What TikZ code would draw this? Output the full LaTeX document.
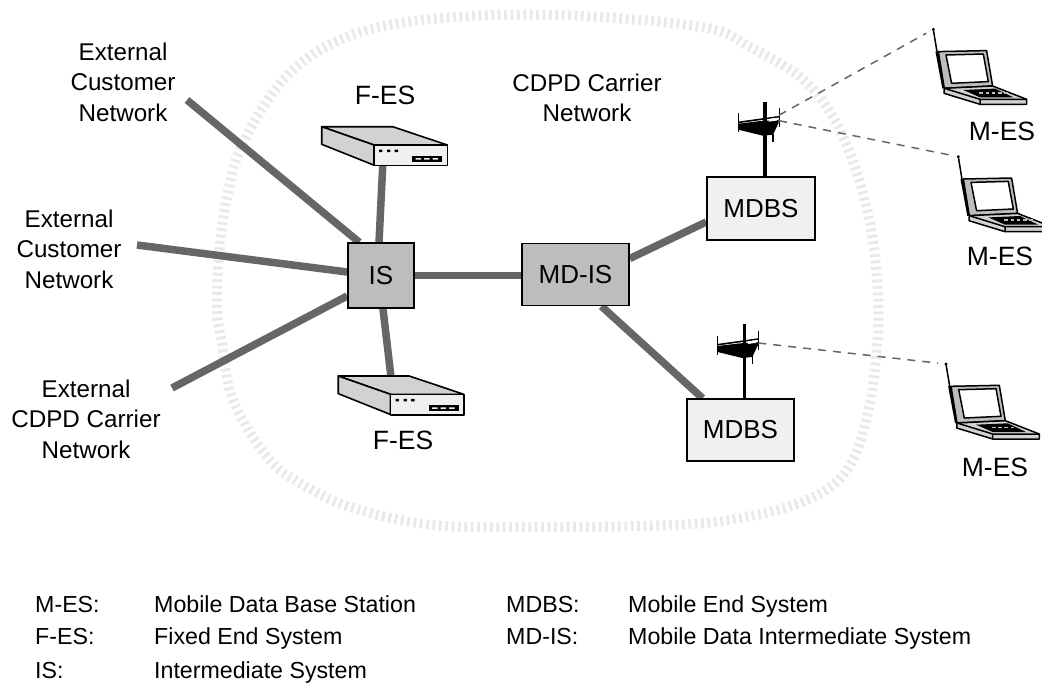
\documentclass[tikz,border=0pt]{standalone}
\usepackage{fontspec}
\setmainfont{Liberation Sans}
\usetikzlibrary{backgrounds,calc}
\definecolor{wire}{HTML}{666666}
\definecolor{loop}{HTML}{E9E9E9}
\definecolor{dark}{HTML}{BDBDBD}
\definecolor{pale}{HTML}{F0F0F0}
\definecolor{face}{HTML}{D2D2D2}
\tikzset{
  lab/.style={font=\fontsize{24.2}{30.5}\selectfont,inner sep=0pt,text=black},
  labc/.style={lab,align=center},
  dev/.style={font=\fontsize{26.5}{31}\selectfont,inner sep=0pt,text=black},
  leg/.style={font=\fontsize{23.2}{28}\selectfont,inner sep=0pt,text=black,anchor=base west},
  box/.style={draw=black,line width=1.6pt,inner sep=0pt,font=\fontsize{26}{30}\selectfont},
  isbox/.style={box,fill=dark},
  bsbox/.style={box,fill=pale},
  thick wire/.style={draw=wire,line width=7.5pt},
  radio/.style={draw=wire,line width=1.5pt,dash pattern=on 8pt off 7pt,shorten >=8pt},
  router/.pic={
    \coordinate (-c) at (60,20);
    \draw[line width=1.6pt,fill=face,line join=round] (0,0) -- (71,0) -- (125.6,18.3) -- (52.3,18.3) -- cycle;
    \draw[line width=1.6pt,fill=face,line join=round] (0,0) -- (52.3,18.3) -- (52.3,38.5) -- (0,17.6) -- cycle;
    \draw[line width=1.6pt,fill=pale,line join=round] (52.3,18.3) rectangle (125.6,38.8);
    \fill[black] (57.3,22.8) rectangle +(3.4,2.6) (65.3,22.8) rectangle +(3.4,2.6) (73,22.8) rectangle +(3.4,2.6);
    \fill[black] (90.5,29.3) rectangle (120.5,35);
    \fill[pale] (94,31.4) rectangle +(5.5,1.5) (102.5,31.4) rectangle +(5.5,1.5) (111,31.4) rectangle +(5.5,1.5);
  },
  laptop/.pic={
    \coordinate (-tip) at (0,0);
    \draw[line width=1.5pt] (0,0) -- (3.6,22);
    \fill (0,0) circle (1.6pt);
    \draw[line width=3pt] (3.6,22) -- (10.5,59);
    \draw[line width=1.5pt,fill=dark,line join=round] (5,22.3) -- (53.3,21.3) -- (59.3,56.7) -- (11,59) -- cycle;
    \draw[line width=1.5pt,fill=white,line join=round] (12.7,25.7) -- (50,24.7) -- (55,52.3) -- (18.3,54) -- cycle;
    \draw[line width=1.5pt,fill=face,line join=round] (11,59) -- (59.3,56.7) -- (93.3,70) -- (93.3,75) -- (46.7,75) -- (10.7,64) -- cycle;
    \draw[line width=1.5pt] (11,59) -- (46.7,70) -- (93.3,70) (46.7,70) -- (46.7,75);
    \fill[black] (30,60.7) -- (61.7,59.3) -- (80,68) -- (46.7,68) -- cycle;
    \foreach \k in {0,1,2,3,4}{\fill[dark] (46+\k*6.2,62.6) rectangle +(3.6,1.6);}
  },
  mast/.pic={
    \coordinate (-rf) at (14,13.5);
    \coordinate (-rg) at (14,19);
    \draw[line width=3.4pt] (0,0) -- (0,75.5);
    \draw[line width=1.4pt] (-26.7,11.7) -- (-26.7,30.7);
    \draw[line width=1.4pt] (14.3,6.7) -- (14.3,25.7);
    \draw[line width=1.6pt] (-26.7,20.7) -- (14.3,15);
    \fill[black] (-26.7,22) -- (-6,19.5) -- (13.7,18) -- (13.7,21) -- (8,33) -- (-2,34) -- (-26.7,28) -- cycle;
    \fill[white] (3.5,17.3) -- (13,16) -- (12,18.8) -- (3.5,20) -- cycle;
    \draw[line width=1.6pt] (8,32) -- (8,40);
  }
}
\begin{document}
\begin{tikzpicture}[x=1pt,y=-1pt]
\useasboundingbox (0,0) rectangle (1042,683);

% boxes
\node[isbox,minimum width=66pt,minimum height=65pt] (IS) at (381,275.5) {IS};
\node[isbox,minimum width=107pt,minimum height=62pt] (MDIS) at (575.5,274.5) {MD-IS};
\node[bsbox,minimum width=108pt,minimum height=63pt] (MDBSa) at (761,208.5) {MDBS};
\node[bsbox,minimum width=107pt,minimum height=62pt] (MDBSb) at (740.5,430) {MDBS};

% free ends of the outside links
\coordinate (extA) at (187,100);
\coordinate (extB) at (137,245);
\coordinate (extC) at (172,388);

% devices
\pic (FESa) at (321.7,126.7) {router};
\pic (FESb) at (338.2,376) {router};
\pic (ANTa) at (765,101.7) {mast};
\pic (ANTb) at (744.3,324) {mast};
\pic (LAPa) at (933.3,29.3) {laptop};
\begin{scope}
\clip (900,100) rectangle (1042,300);
\pic (LAPb) at (958.3,156.7) {laptop};
\end{scope}
\pic (LAPc) at (946,364) {laptop};

\begin{scope}[on background layer]
\draw[draw=loop,line width=10pt,dash pattern=on 2.8pt off 3.6pt]
  plot[smooth cycle,tension=0.6] coordinates {
   (217,310) (222,343) (233,400) (267,457) (300,483) (350,507) (433,525) (540,527) (673,525) (740,518) (807,500) (847,470) (868,413) (877,347) (878,297) (872,235) (857,173) (833,117) (800,77) (750,47) (707,28) (600,17) (497,15) (400,23) (333,43) (283,80) (243,143) (227,197) (219,255)};
\draw[thick wire] (extA) -- ([xshift=12pt]IS.north west);
\draw[thick wire] (extB) -- ([yshift=3.5pt]IS.west);
\draw[thick wire] (extC) -- ([yshift=-20.5pt]IS.west);
\draw[thick wire] ([xshift=-2pt]IS.north) -- ([xshift=2pt,yshift=1pt]FESa-c);
\draw[thick wire] ([xshift=2pt]IS.south) -- ($(FESb-c)+(-5,0)$);
\draw[thick wire] (IS.east) -- (IS.east -| MDIS.west);
\draw[thick wire] ([yshift=16pt]MDIS.east) -- ([yshift=-13.5pt]MDBSa.west);
\draw[thick wire] ([xshift=26pt]MDIS.south) -- ([xshift=-38pt]MDBSb.north);
\end{scope}

\draw[radio] (ANTa-rf) -- (LAPa-tip);
\draw[radio] (ANTa-rg) -- (LAPb-tip);
\draw[radio] (ANTb-rg) -- (LAPc-tip);

% labels
\node[labc] (tA) at (123,82) {External\\Customer\\Network};
\node[labc] (tB) at (69,249) {External\\Customer\\Network};
\node[labc] (tC) at (86,419) {External\\CDPD Carrier\\Network};
\node[labc] (tD) at (587,98) {CDPD Carrier\\Network};
\node[dev] (tE) at (385,95) {F-ES};
\node[dev] (tF) at (403,440) {F-ES};
\node[dev] (tG) at (1002,131) {M-ES};
\node[dev] (tH) at (1000,256) {M-ES};
\node[dev] (tI) at (995,467) {M-ES};

% legend
\node[leg] (k1) at (35,612) {M-ES:};
\node[leg] (v1) at (154,612) {Mobile Data Base Station};
\node[leg] (k2) at (35,644.5) {F-ES:};
\node[leg] (v2) at (154,644.5) {Fixed End System};
\node[leg] (k3) at (35,678) {IS:};
\node[leg] (v3) at (154,678) {Intermediate System};
\node[leg] (k4) at (506,612) {MDBS:};
\node[leg] (v4) at (628,612) {Mobile End System};
\node[leg] (k5) at (506,644.5) {MD-IS:};
\node[leg] (v5) at (628,644.5) {Mobile Data Intermediate System};
\end{tikzpicture}
\end{document}
